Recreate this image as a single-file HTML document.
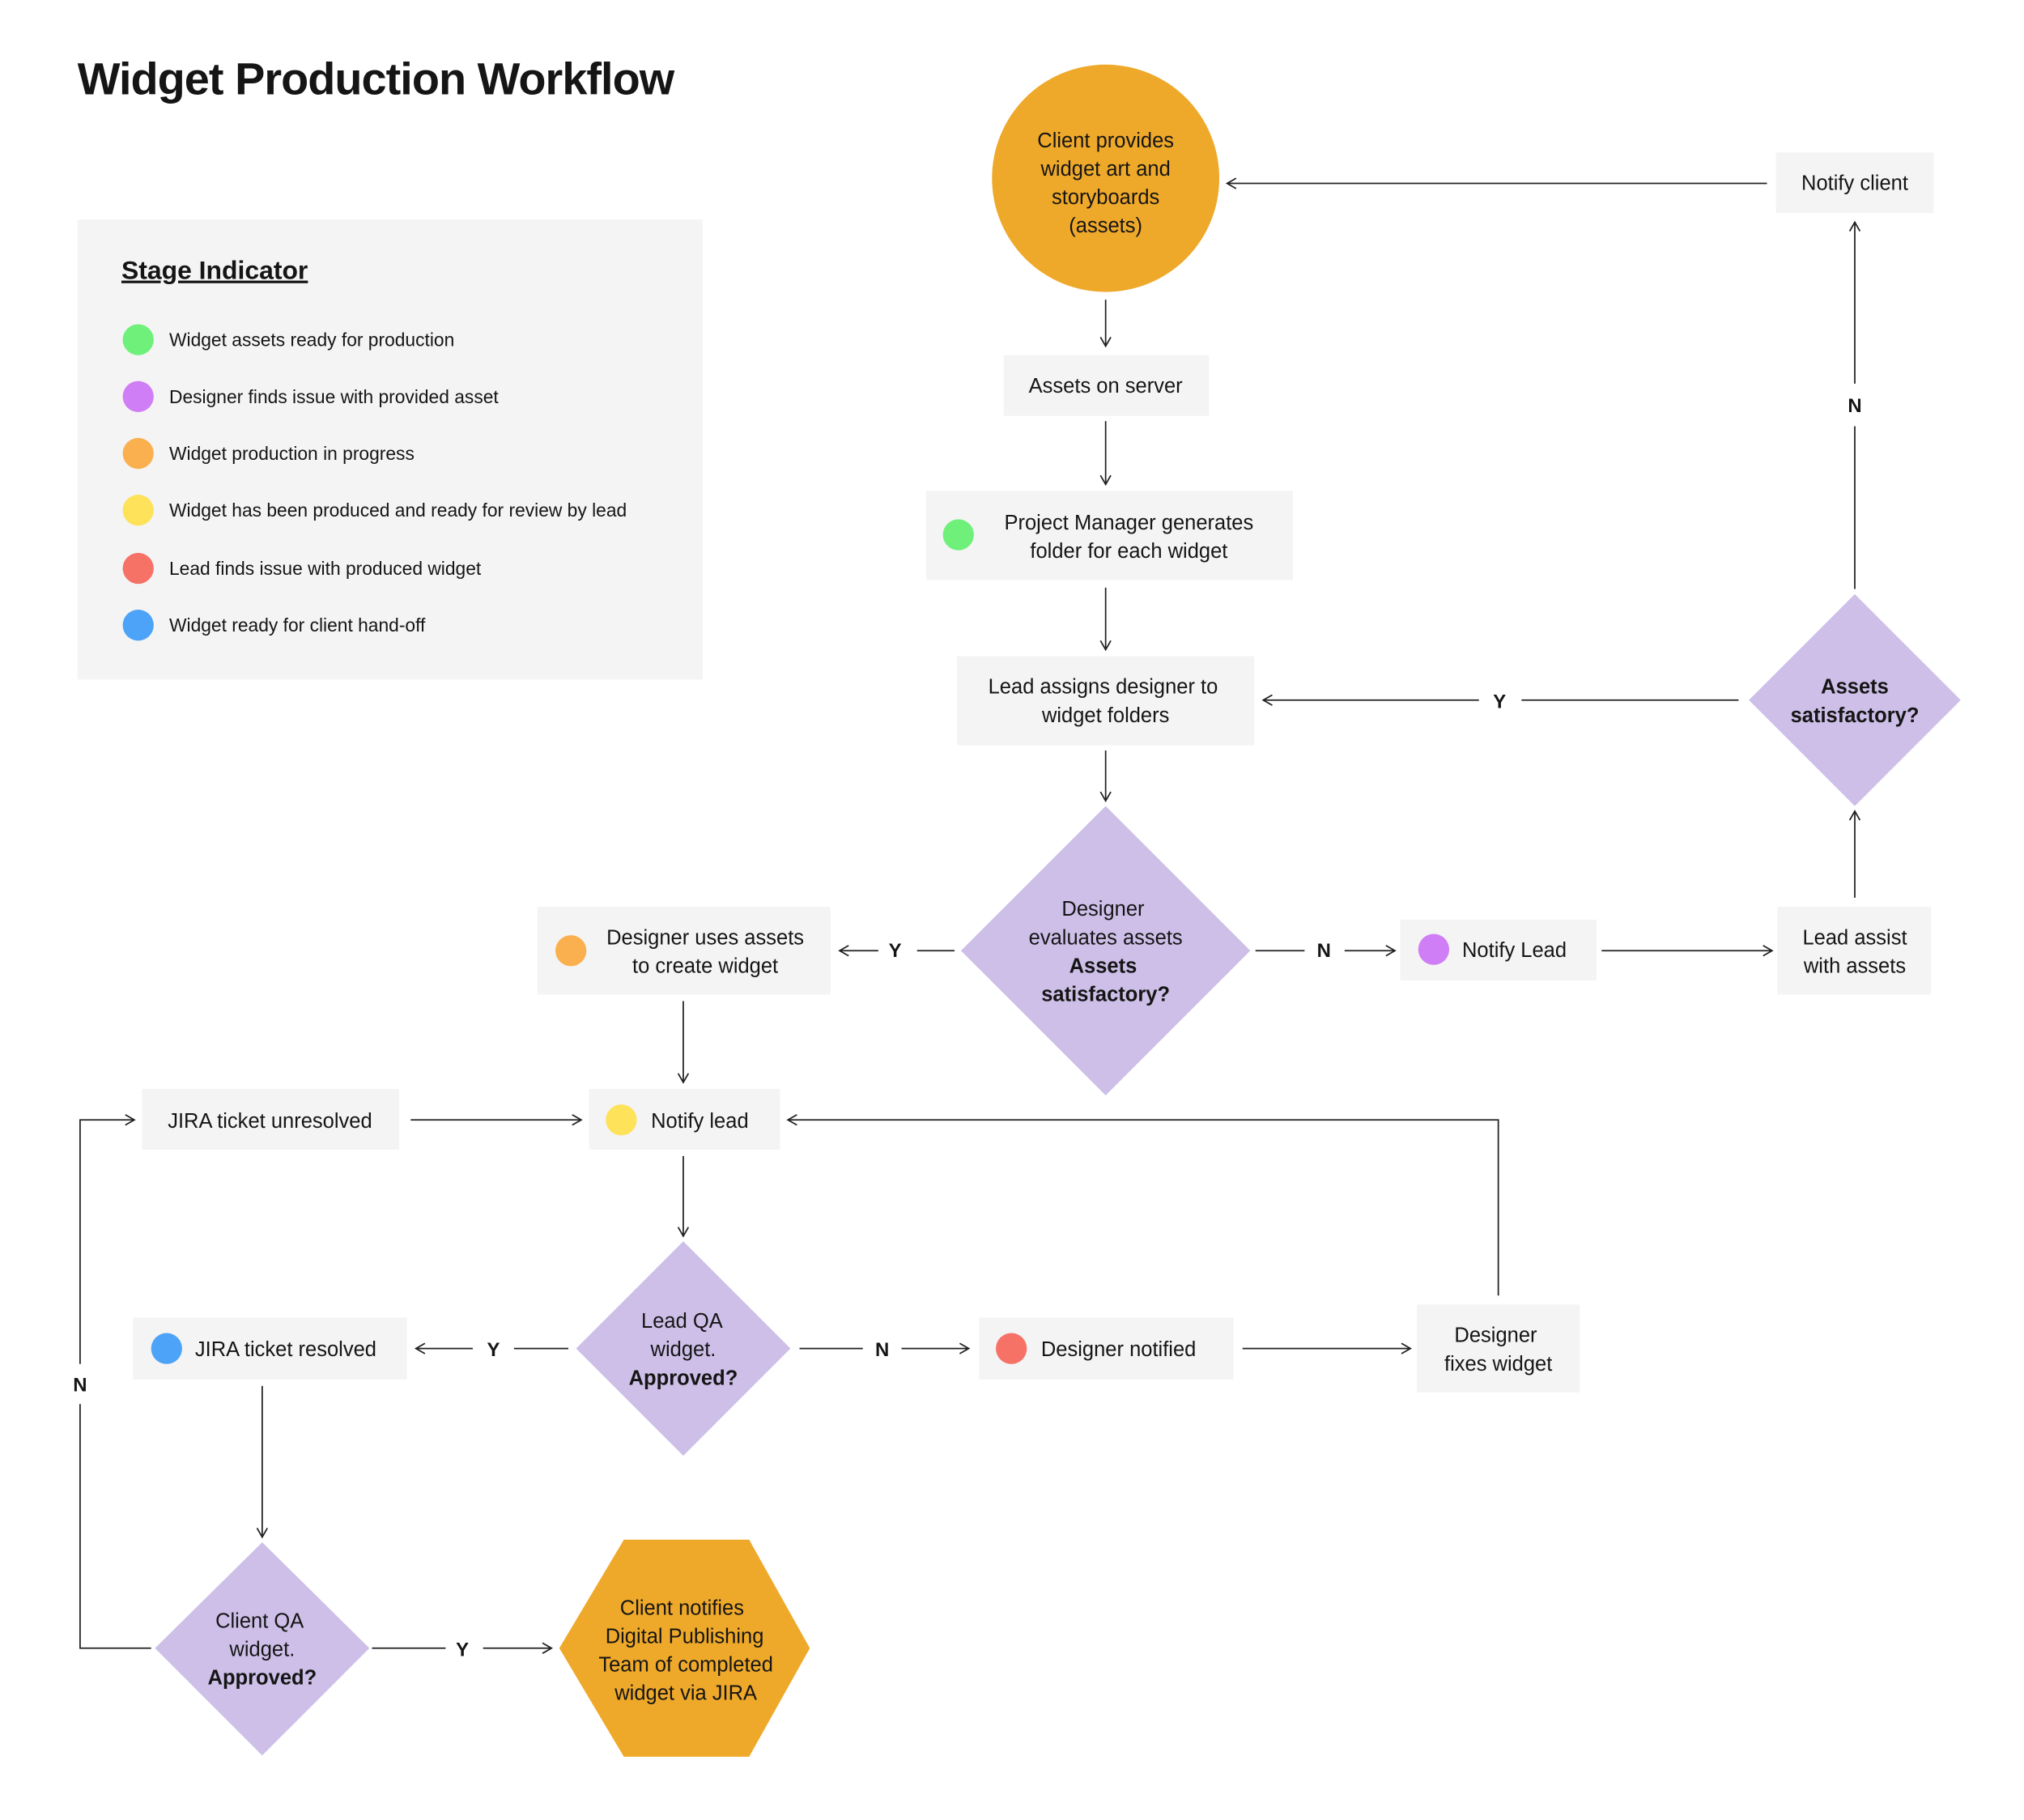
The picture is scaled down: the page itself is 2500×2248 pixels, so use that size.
<!DOCTYPE html>
<html><head><meta charset="utf-8"><style>
html,body{margin:0;padding:0;background:#fff}
svg{display:block}
text{font-family:"Liberation Sans",sans-serif;fill:#151515}
.t{font-size:16px;text-anchor:middle}
.s{font-size:16px}
.l{font-size:14.3px}
.b{font-weight:bold}
.box{fill:#f4f4f4}
.dia{fill:#cdbfe8}
.ln{stroke:#222;stroke-width:1.1;fill:none}
.lab{font-size:15px;font-weight:bold;text-anchor:middle}
</style></head><body>
<svg width="2500" height="2248" viewBox="0 0 1567 1409" preserveAspectRatio="none" xmlns="http://www.w3.org/2000/svg">
<defs><marker id="a" markerWidth="10" markerHeight="10" refX="8" refY="5" orient="auto" markerUnits="userSpaceOnUse"><path d="M1,1 L8,5 L1,9" fill="none" stroke="#222" stroke-width="1.1"/></marker></defs>

<text x="60" y="73" style="font-size:35px;font-weight:bold;letter-spacing:-0.6px">Widget Production Workflow</text>

<rect x="60" y="170" width="484" height="356" class="box"/>
<text x="94" y="216" style="font-size:20px;font-weight:bold;text-decoration:underline">Stage Indicator</text>
<circle cx="107" cy="263" r="12" fill="#6ef07a"/><text x="131" y="268" class="l">Widget assets ready for production</text>
<circle cx="107" cy="307" r="12" fill="#d07ef5"/><text x="131" y="312" class="l">Designer finds issue with provided asset</text>
<circle cx="107" cy="351" r="12" fill="#fbb04f"/><text x="131" y="356" class="l">Widget production in progress</text>
<circle cx="107" cy="395" r="12" fill="#fde25a"/><text x="131" y="400" class="l">Widget has been produced and ready for review by lead</text>
<circle cx="107" cy="440" r="12" fill="#f67166"/><text x="131" y="445" class="l">Lead finds issue with produced widget</text>
<circle cx="107" cy="484" r="12" fill="#4da3f7"/><text x="131" y="489" class="l">Widget ready for client hand-off</text>

<circle cx="856" cy="138" r="88" fill="#efa92a"/>
<text class="t" x="856" y="114">Client provides</text>
<text class="t" x="856" y="136">widget art and</text>
<text class="t" x="856" y="158">storyboards</text>
<text class="t" x="856" y="180">(assets)</text>

<rect x="1375" y="118" width="122" height="47" class="box"/><text class="t" x="1436" y="147">Notify client</text>
<line class="ln" x1="1368" y1="142" x2="950" y2="142" marker-end="url(#a)"/>

<line class="ln" x1="856" y1="232" x2="856" y2="268" marker-end="url(#a)"/>
<rect x="777" y="275" width="159" height="47" class="box"/><text class="t" x="856" y="304">Assets on server</text>
<line class="ln" x1="856" y1="326" x2="856" y2="375" marker-end="url(#a)"/>
<rect x="717" y="380" width="284" height="69" class="box"/>
<circle cx="742" cy="414" r="12" fill="#6ef07a"/>
<text class="t" x="874" y="410">Project Manager generates</text>
<text class="t" x="874" y="432">folder for each widget</text>
<line class="ln" x1="856" y1="455" x2="856" y2="503" marker-end="url(#a)"/>
<rect x="741" y="508" width="230" height="69" class="box"/>
<text class="t" x="854" y="537">Lead assigns designer to</text>
<text class="t" x="856" y="559">widget folders</text>
<line class="ln" x1="856" y1="581" x2="856" y2="620" marker-end="url(#a)"/>

<polygon class="dia" points="856,624 968,736 856,848 744,736"/>
<text class="t" x="854" y="709">Designer</text>
<text class="t" x="856" y="731">evaluates assets</text>
<text class="t b" x="854" y="753">Assets</text>
<text class="t b" x="856" y="775">satisfactory?</text>

<line class="ln" x1="739" y1="736" x2="710" y2="736"/><text class="lab" x="693" y="741">Y</text>
<line class="ln" x1="680" y1="736" x2="650" y2="736" marker-end="url(#a)"/>
<rect x="416" y="702" width="227" height="68" class="box"/>
<circle cx="442" cy="736" r="12" fill="#fbb04f"/>
<text class="t" x="546" y="731">Designer uses assets</text>
<text class="t" x="546" y="753">to create widget</text>

<line class="ln" x1="972" y1="736" x2="1010" y2="736"/><text class="lab" x="1025" y="741">N</text>
<line class="ln" x1="1041" y1="736" x2="1080" y2="736" marker-end="url(#a)"/>
<rect x="1084" y="712" width="152" height="47" class="box"/>
<circle cx="1110" cy="735" r="12" fill="#d07ef5"/>
<text class="s" x="1132" y="741">Notify Lead</text>
<line class="ln" x1="1240" y1="736" x2="1372" y2="736" marker-end="url(#a)"/>
<rect x="1376" y="702" width="119" height="68" class="box"/>
<text class="t" x="1436" y="731">Lead assist</text>
<text class="t" x="1436" y="753">with assets</text>
<line class="ln" x1="1436" y1="695" x2="1436" y2="628" marker-end="url(#a)"/>

<polygon class="dia" points="1436,460 1518,542 1436,624 1354,542"/>
<text class="t b" x="1436" y="537">Assets</text>
<text class="t b" x="1436" y="559">satisfactory?</text>
<line class="ln" x1="1436" y1="456" x2="1436" y2="330"/><text class="lab" x="1436" y="319">N</text>
<line class="ln" x1="1436" y1="297" x2="1436" y2="172" marker-end="url(#a)"/>
<line class="ln" x1="1346" y1="542" x2="1178" y2="542"/><text class="lab" x="1161" y="548">Y</text>
<line class="ln" x1="1145" y1="542" x2="978" y2="542" marker-end="url(#a)"/>

<line class="ln" x1="529" y1="775" x2="529" y2="838" marker-end="url(#a)"/>
<rect x="110" y="843" width="199" height="47" class="box"/><text class="t" x="209" y="873">JIRA ticket unresolved</text>
<line class="ln" x1="318" y1="867" x2="450" y2="867" marker-end="url(#a)"/>
<rect x="456" y="843" width="148" height="47" class="box"/>
<circle cx="481" cy="867" r="12" fill="#fde25a"/>
<text class="s" x="504" y="873">Notify lead</text>
<polyline class="ln" points="1160,1003 1160,867 610,867" marker-end="url(#a)"/>
<line class="ln" x1="529" y1="895" x2="529" y2="957" marker-end="url(#a)"/>

<polygon class="dia" points="529,961 612,1044 529,1127 446,1044"/>
<text class="t" x="528" y="1028">Lead QA</text>
<text class="t" x="529" y="1050">widget.</text>
<text class="t b" x="529" y="1072">Approved?</text>
<line class="ln" x1="440" y1="1044" x2="398" y2="1044"/><text class="lab" x="382" y="1050">Y</text>
<line class="ln" x1="366" y1="1044" x2="322" y2="1044" marker-end="url(#a)"/>
<rect x="103" y="1020" width="212" height="48" class="box"/>
<circle cx="129" cy="1044" r="12" fill="#4da3f7"/>
<text class="s" x="151" y="1050">JIRA ticket resolved</text>
<line class="ln" x1="619" y1="1044" x2="668" y2="1044"/><text class="lab" x="683" y="1050">N</text>
<line class="ln" x1="698" y1="1044" x2="750" y2="1044" marker-end="url(#a)"/>
<rect x="758" y="1020" width="197" height="48" class="box"/>
<circle cx="783" cy="1044" r="12" fill="#f67166"/>
<text class="s" x="806" y="1050">Designer notified</text>
<line class="ln" x1="962" y1="1044" x2="1092" y2="1044" marker-end="url(#a)"/>
<rect x="1097" y="1010" width="126" height="68" class="box"/>
<text class="t" x="1158" y="1039">Designer</text>
<text class="t" x="1160" y="1061">fixes widget</text>

<line class="ln" x1="203" y1="1073" x2="203" y2="1190" marker-end="url(#a)"/>
<polygon class="dia" points="203,1194 286,1276 203,1359 120,1276"/>
<text class="t" x="201" y="1260">Client QA</text>
<text class="t" x="203" y="1282">widget.</text>
<text class="t b" x="203" y="1304">Approved?</text>
<line class="ln" x1="288" y1="1276" x2="345" y2="1276"/><text class="lab" x="358" y="1282">Y</text>
<line class="ln" x1="374" y1="1276" x2="427" y2="1276" marker-end="url(#a)"/>
<polygon points="433,1276 483,1192 580,1192 627,1276 580,1360 483,1360" fill="#efa92a"/>
<text class="t" x="528" y="1250">Client notifies</text>
<text class="t" x="530" y="1272">Digital Publishing</text>
<text class="t" x="531" y="1294">Team of completed</text>
<text class="t" x="531" y="1316">widget via JIRA</text>

<polyline class="ln" points="117,1276 62,1276 62,1087"/>
<text class="lab" x="62" y="1077">N</text>
<polyline class="ln" points="62,1056 62,867 104,867" marker-end="url(#a)"/>
</svg>
</body></html>
